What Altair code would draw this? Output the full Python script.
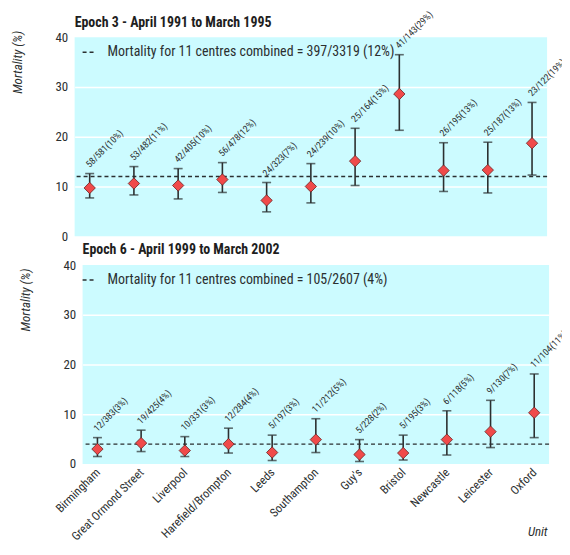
import altair as alt
import pandas as pd

units = ["Birmingham", "Great Ormond Street", "Liverpool", "Harefield/Brompton", "Leeds",
         "Southampton", "Guy's", "Bristol", "Newcastle", "Leicester", "Oxford"]

e3_labels = ["58/581(10%)", "53/482(11%)", "42/405(10%)", "56/478(12%)", "24/323(7%)",
             "24/239(10%)", "25/164(15%)", "41/143(29%)", "26/195(13%)", "25/187(13%)", "23/122(19%)"]
e3_est = [9.7, 10.6, 10.2, 11.4, 7.2, 10.0, 15.1, 28.6, 13.2, 13.3, 18.7]
e3_lo = [7.7, 8.3, 7.5, 8.8, 4.9, 6.7, 10.2, 21.3, 9.0, 8.7, 12.3]
e3_hi = [12.6, 14.0, 13.6, 14.8, 10.8, 14.6, 21.7, 36.5, 18.8, 18.9, 26.9]
e3_overall = 12.0
e3_legend = "Mortality for 11 centres combined = 397/3319 (12%)"
e3_title = "Epoch 3 - April 1991 to March 1995"

e6_labels = ["12/383(3%)", "19/425(4%)", "10/331(3%)", "12/284(4%)", "5/197(3%)",
             "11/212(5%)", "5/228(2%)", "5/195(3%)", "6/118(5%)", "9/130(7%)", "11/104(11%)"]
e6_est = [3.0, 4.2, 2.7, 4.0, 2.3, 4.9, 1.9, 2.2, 4.9, 6.5, 10.3]
e6_lo = [1.5, 2.5, 1.5, 2.2, 0.7, 2.3, 0.5, 0.8, 1.8, 3.3, 5.3]
e6_hi = [5.3, 6.8, 5.5, 7.2, 5.8, 9.1, 4.9, 5.8, 10.7, 12.8, 18.1]
e6_overall = 4.0
e6_legend = "Mortality for 11 centres combined = 105/2607 (4%)"
e6_title = "Epoch 6 - April 1999 to March 2002"

FONT = "Roboto Condensed, Liberation Sans Narrow, Liberation Sans, sans-serif"
INK = "#2b2f30"


def panel(labels, est, lo, hi, overall, legend_text, title, show_x, width, ytitle_y, title_dy):
    df = pd.DataFrame({"unit": units, "lab": labels, "est": est, "lo": lo, "hi": hi})
    odf = pd.DataFrame({"overall": [overall], "key": [legend_text]})

    if show_x:
        xaxis = alt.Axis(title="Unit", labelAngle=315, labelAlign="right", labelBaseline="middle",
                         labelFontSize=12, labelFont=FONT, labelColor=INK, labelPadding=6,
                         labelLimit=0, ticks=False, domain=False, grid=False,
                         titleFont=FONT, titleFontSize=13, titleFontStyle="italic",
                         titleFontWeight="normal", titleColor=INK,
                         titleAlign="right", titleBaseline="middle", titleX=width - 2, titleY=68)
    else:
        xaxis = None
    x = alt.X("unit:N", sort=units, scale=alt.Scale(type="point", padding=0.34), axis=xaxis)
    yscale = alt.Scale(domain=[0, 40], nice=False)
    yaxis = alt.Axis(title="Mortality (%)", values=[0, 10, 20, 30, 40], ticks=False, domain=False,
                     labelFontSize=13, labelFont=FONT, labelColor=INK, labelPadding=7,
                     gridColor="white", gridWidth=1.5,
                     gridOpacity={"condition": {"test": "datum.value == 0 || datum.value == 40", "value": 0}, "value": 1},
                     titleFont=FONT, titleFontSize=13, titleFontStyle="italic", titleFontWeight="normal",
                     titleColor=INK, titleAnchor="end", titlePadding=31, titleY=ytitle_y)

    base = alt.Chart(df)
    rule_line = alt.Chart(odf).mark_rule(color=INK, strokeWidth=1.4).encode(
        y=alt.Y("overall:Q", scale=yscale, axis=yaxis),
        strokeDash=alt.StrokeDash("key:N", scale=alt.Scale(range=[[4, 3]]),
                                  legend=alt.Legend(orient="top-left", title=None, offset=7, padding=0,
                                                    symbolType="stroke", symbolSize=196,
                                                    symbolStrokeColor=INK, symbolStrokeWidth=1.4,
                                                    labelFont=FONT, labelFontSize=14, labelColor=INK,
                                                    labelOffset=10, labelLimit=0)),
    )
    bars = base.mark_rule(color=INK, strokeWidth=1.6).encode(
        x=x, y=alt.Y("lo:Q", scale=yscale, axis=yaxis), y2="hi:Q")
    cap_lo = base.mark_tick(color=INK, orient="horizontal", size=9, thickness=1.6).encode(
        x=x, y=alt.Y("lo:Q", scale=yscale, axis=yaxis))
    cap_hi = base.mark_tick(color=INK, orient="horizontal", size=9, thickness=1.6).encode(
        x=x, y=alt.Y("hi:Q", scale=yscale, axis=yaxis))
    pts = base.mark_point(shape="diamond", filled=True, fill="#f04a4a", stroke="#6a2323",
                          strokeWidth=0.8, size=130, opacity=1).encode(
        x=x, y=alt.Y("est:Q", scale=yscale, axis=yaxis))
    txt = base.mark_text(angle=315, align="left", baseline="middle", dx=4, dy=-7,
                         fontSize=9.5, font=FONT, color=INK).encode(
        x=x, y=alt.Y("hi:Q", scale=yscale, axis=yaxis), text="lab:N")

    return alt.layer(rule_line, bars, cap_lo, cap_hi, pts, txt).properties(
        width=width, height=200,
        title=alt.TitleParams(title, anchor="start", frame="group", font=FONT, fontSize=14,
                              fontWeight="bold", color="#1e1e1e", offset=4, dy=title_dy),
    )


top = panel(e3_labels, e3_est, e3_lo, e3_hi, e3_overall, e3_legend, e3_title, False, 475, -7, 25)
bottom = panel(e6_labels, e6_est, e6_lo, e6_hi, e6_overall, e6_legend, e6_title, True, 469, 3, 2)

spacer = alt.Chart(pd.DataFrame({"v": [0]})).mark_point(opacity=0).encode(
    x=alt.X("v:Q", axis=None), y=alt.Y("v:Q", axis=None)
).properties(width=8, height=200, view=alt.ViewBackground(fill="white", fillOpacity=0, stroke=None))

bottom_row = alt.hconcat(spacer, bottom, spacing=0, bounds="flush")

chart = alt.vconcat(top, bottom_row, spacing=29, bounds="flush").resolve_scale(
    strokeDash="independent"
).resolve_legend(strokeDash="independent").configure(
    background="white",
    autosize=alt.AutoSizeParams(type="none"),
    padding={"left": 67, "top": 28, "right": 490, "bottom": 507},
).configure_view(fill="#ccfbff", stroke=None)

chart.save("out.html", embed_options={"renderer": "svg", "actions": False})
